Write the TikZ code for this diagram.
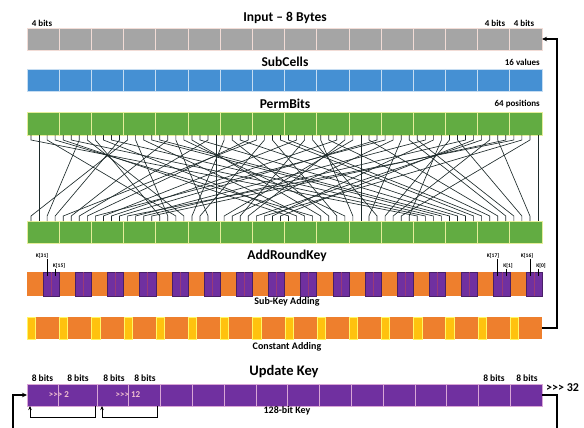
\documentclass[tikz,border=0pt]{standalone}
\usepackage{fontspec}
\setmainfont{Carlito}
\usetikzlibrary{arrows.meta,calc}
\definecolor{cgray}{HTML}{A5A5A5}
\definecolor{cblue}{HTML}{4590D3}
\definecolor{cgreen}{HTML}{62AC42}
\definecolor{corange}{HTML}{EE7F2D}
\definecolor{cpurple}{HTML}{7030A0}
\definecolor{cyellow}{HTML}{FFC20E}
\definecolor{sepgray}{HTML}{F2DCD6}
\definecolor{sepblue}{HTML}{C6DDF2}
\definecolor{sepgreen}{HTML}{E6EE9A}
\definecolor{seppurple}{HTML}{D9A6D6}
\definecolor{wirecol}{HTML}{1E2B2B}
\definecolor{subdiv}{HTML}{9A3A78}
\begin{document}
\begin{tikzpicture}[x=1pt,y=-1pt,
  bar/.style={draw=none, minimum width=515pt, minimum height=22pt, inner sep=0pt, outer sep=0pt},
  title/.style={font=\bfseries\fontsize{13.5}{15}\selectfont, inner sep=0pt},
  small/.style={font=\bfseries\fontsize{9}{10}\selectfont, inner sep=0pt},
  mid/.style={font=\bfseries\fontsize{10}{11}\selectfont, inner sep=0pt},
  tiny/.style={font=\bfseries\fontsize{5.5}{6}\selectfont, inner sep=0pt},
  wire/.style={line width=0.65pt, draw=wirecol},
  tick/.style={line width=0.6pt, draw=black},
  fb/.style={line width=1.4pt, draw=black},
  lp/.style={line width=0.9pt, draw=black},
  arr/.style={-{Stealth[length=5pt,width=4.5pt]}},
  sarr/.style={-{Stealth[length=4pt,width=3.5pt]}}
]
\useasboundingbox (0,0) rectangle (584,428);

% ---------- bars ----------
\node[bar, fill=cgray] (input) at (284.5,39) {};
\node[bar, fill=cblue] (subc) at (284.5,80) {};
\node[bar, fill=cgreen, minimum height=23pt] (ptop) at (284.5,123.5) {};
\node[bar, fill=cgreen] (pbot) at (284.5,232) {};
\node[bar, fill=corange, minimum height=24pt] (subkey) at (284.5,284) {};
\node[bar, fill=corange] (const) at (284.5,328) {};
\node[bar, fill=cpurple] (key) at (284.5,395) {};

\foreach \k in {1,...,15} {
  \draw[sepgray, line width=0.7pt] ([xshift=\k*32.1875pt]input.north west) -- ([xshift=\k*32.1875pt]input.south west);
  \draw[sepblue, line width=0.7pt] ([xshift=\k*32.1875pt]subc.north west) -- ([xshift=\k*32.1875pt]subc.south west);
  \draw[sepgreen, line width=0.7pt] ([xshift=\k*32.1875pt]ptop.north west) -- ([xshift=\k*32.1875pt]ptop.south west);
  \draw[sepgreen, line width=0.7pt] ([xshift=\k*32.1875pt]pbot.north west) -- ([xshift=\k*32.1875pt]pbot.south west);
}
\draw[sepgray, line width=0.7pt] (input.north west) rectangle (input.south east);
\draw[sepblue, line width=0.7pt] (subc.north west) rectangle (subc.south east);
\draw[sepgreen, line width=0.7pt] (ptop.north west) rectangle (ptop.south east);
\draw[sepgreen, line width=0.7pt] (pbot.north west) rectangle (pbot.south east);

% sub-key blocks
\foreach \k in {0,...,15} {
  \fill[cpurple] ([xshift=\k*32.1875pt+16.09pt]subkey.north west) rectangle ([xshift=\k*32.1875pt+32.1875pt]subkey.south west);
  \draw[black!35!cpurple, line width=0.5pt] ([xshift=\k*32.1875pt+16.09pt]subkey.north west) rectangle ([xshift=\k*32.1875pt+32.1875pt]subkey.south west);
  \draw[subdiv, line width=0.45pt] ([xshift=\k*32.1875pt+24.14pt]subkey.north west) -- ([xshift=\k*32.1875pt+24.14pt]subkey.south west);
}
% constant blocks
\foreach \k in {0,...,15} {
  \fill[cyellow] ([xshift=\k*32.1875pt]const.north west) rectangle ([xshift=\k*32.1875pt+8.6pt]const.south west);
  \draw[yellow!60!white, line width=0.6pt] ([xshift=\k*32.1875pt+0.3pt]const.north west) rectangle ([xshift=\k*32.1875pt+8.6pt]const.south west);
}
% key bar dividers
\foreach \xx in {58,97,128.8,160.6,192.4,224.2,256,287.7,319.5,351.3,383.1,414.9,446.7,478.5,510.3} {
  \draw[seppurple, line width=0.7pt] (\xx,384) -- (\xx,406);
}
\draw[seppurple, line width=0.7pt] (key.north west) rectangle (key.south east);

% ---------- permutation wires ----------
\foreach \i in {0,...,63} {
  \coordinate (t\i) at ({27+(63.5-\i)*8.047},135);
  \coordinate (b\i) at ({27+(63.5-\i)*8.047},221);
}
\foreach \p [count=\b from 0] in {0,17,34,51,48,1,18,35,32,49,2,19,16,33,50,3,
  4,21,38,55,52,5,22,39,36,53,6,23,20,37,54,7,
  8,25,42,59,56,9,26,43,40,57,10,27,24,41,58,11,
  12,29,46,63,60,13,30,47,44,61,14,31,28,45,62,15} {
  \draw[wire] (t\b) -- ++(0,5) -- ([yshift=5pt]b\p) -- (b\p);
}

% ---------- titles ----------
\node[title] (tin) at (285,18) {Input – 8 Bytes};
\node[title] (tsc) at (285,62) {SubCells};
\node[title] (tpb) at (285,104) {PermBits};
\node[title] (tark) at (287,256) {AddRoundKey};
\node[title, font=\bfseries\fontsize{14.5}{16}\selectfont] (tuk) at (284,372) {Update Key};

% ---------- small labels ----------
\node[small] (lb1) at (42,23) {4 bits};
\node[small] (lb2) at (495,23) {4 bits};
\node[small] (lb3) at (524,23) {4 bits};
\node[small, anchor=east] (lvals) at (540,62) {16 values};
\node[small, anchor=east] (lpos) at (540,104) {64 positions};
\node[mid] (lska) at (287,302) {Sub-Key Adding};
\node[mid] (lca) at (287,347) {Constant Adding};
\node[mid] (lkey) at (287,411) {128-bit Key};
\node[small, font=\bfseries\fontsize{9.5}{10}\selectfont] (e1) at (42.5,378) {8 bits};
\node[small, font=\bfseries\fontsize{9.5}{10}\selectfont] (e2) at (78,378) {8 bits};
\node[small, font=\bfseries\fontsize{9.5}{10}\selectfont] (e3) at (114,378) {8 bits};
\node[small, font=\bfseries\fontsize{9.5}{10}\selectfont] (e4) at (145,378) {8 bits};
\node[small, font=\bfseries\fontsize{9.5}{10}\selectfont] (e5) at (494,378) {8 bits};
\node[small, font=\bfseries\fontsize{9.5}{10}\selectfont] (e6) at (527,378) {8 bits};
\node[font=\bfseries\fontsize{12}{13}\selectfont, inner sep=0pt, anchor=west] (r32) at (546,388) {>{}>{}> 32};
\node[small, text=purple!25!white] (rot2) at (59,395) {>{}>{}> 2};
\node[small, text=purple!25!white] (rot12) at (128,395) {>{}>{}> 12};

% ---------- key labels ----------
\node[tiny] (k31) at (42,256) {K[31]};
\node[tiny] (k15) at (59,266) {K[15]};
\node[tiny] (k17) at (493,256) {K[17]};
\node[tiny] (k1) at (508,266) {K[1]};
\node[tiny] (k16) at (527,256) {K[16]};
\node[tiny] (k0) at (541,266) {K[0]};
\draw[tick] (k31.south -| t61) -- ([yshift=-4pt]subkey.north -| t61);
\draw[tick] (k15.south -| t60) -- ([yshift=-4pt]subkey.north -| t60);
\draw[tick] (k17.south -| t5) -- ([yshift=-4pt]subkey.north -| t5);
\draw[tick] (k1.south -| t4) -- ([yshift=-4pt]subkey.north -| t4);
\draw[tick] (k16.south -| t1) -- ([yshift=-4pt]subkey.north -| t1);
\draw[tick] (k0.south -| t0) -- ([yshift=-4pt]subkey.north -| t0);

% ---------- feedback ----------
\draw[fb, arr] (const.east) -- ++(15,0) |- (input.east);
\coordinate (kr) at (557,428);
\coordinate (kl) at (13,428);
\draw[fb] (key.east) -| (kr);
\draw[fb, arr] (kl) |- (key.west);

% rotation loops
\coordinate (l1a) at (30,406);
\coordinate (l1b) at (95,406);
\coordinate (l2a) at (102,406);
\coordinate (l2b) at (157,406);
\draw[lp, sarr] (l1b) -- ++(0,11) -| (l1a);
\draw[lp, sarr] (l2b) -- ++(0,11) -| (l2a);
\end{tikzpicture}
\end{document}
